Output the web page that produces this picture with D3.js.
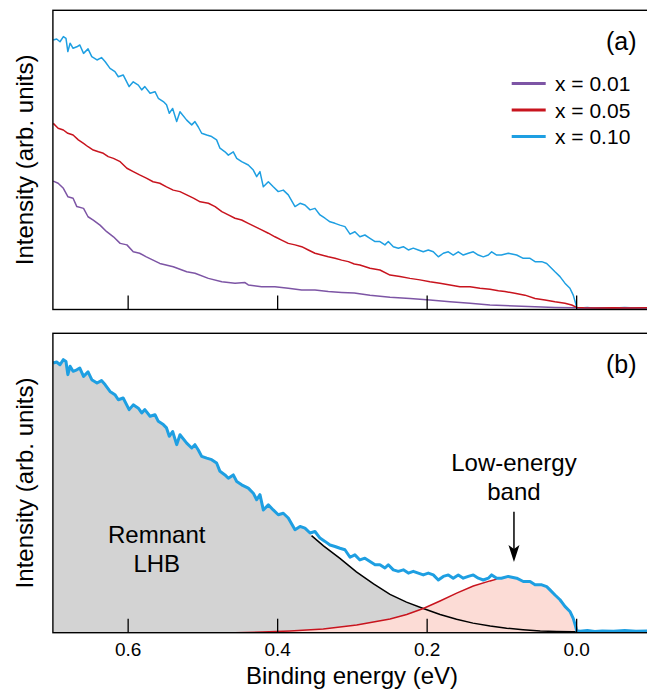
<!DOCTYPE html>
<html>
<head>
<meta charset="utf-8">
<script src="https://cdn.jsdelivr.net/npm/d3@7"></script>
<style>
  body { margin: 0; background: #fff; }
  svg { display: block; }
  text { font-family: "Liberation Sans", Arial, Helvetica, sans-serif; fill: #000; }
</style>
</head>
<body>
<div id="chart"></div>
<script>
// ---- data (binding energy in eV, intensity in % of panel height) ----

const specX010 = [
  [0.6995, 90.1], [0.695, 90.4], [0.6905, 89.5], [0.686, 91.2], [0.6825, 90.6], [0.680, 86.2],
  [0.677, 89.0], [0.673, 87.3], [0.668, 87.8], [0.664, 88.4], [0.659, 85.6], [0.653, 87.1],
  [0.648, 84.5], [0.641, 83.4], [0.635, 84.2], [0.630, 82.8], [0.6236, 80.6], [0.617, 79.5],
  [0.6125, 77.8], [0.606, 78.4], [0.598, 74.5], [0.5925, 76.1], [0.5857, 75.0], [0.5812, 73.4],
  [0.577, 74.5], [0.570, 72.3], [0.5634, 72.8], [0.559, 70.6], [0.5523, 69.5], [0.548, 68.4],
  [0.5443, 65.6], [0.5398, 67.2], [0.5344, 62.8], [0.530, 66.1], [0.521, 63.3], [0.5143, 61.7],
  [0.510, 62.8], [0.5055, 61.0], [0.501, 58.9], [0.4942, 58.3], [0.4876, 57.8], [0.481, 56.7],
  [0.4765, 53.9], [0.4698, 52.7], [0.4653, 51.6], [0.4587, 52.7], [0.4541, 50.5], [0.4475, 49.4],
  [0.4386, 48.3], [0.4319, 46.6], [0.4274, 44.4], [0.4230, 46.1], [0.4185, 41.0], [0.4118, 42.7],
  [0.4052, 41.0], [0.3985, 39.4], [0.3918, 39.9], [0.3851, 38.3], [0.3761, 34.4], [0.3694, 35.5],
  [0.3628, 34.9], [0.356, 33.3], [0.3494, 33.8], [0.3427, 31.6], [0.336, 30.5], [0.3293, 29.3],
  [0.3226, 28.8], [0.316, 28.2], [0.3093, 27.7], [0.3025, 25.2], [0.296, 26.0], [0.2893, 24.3],
  [0.2826, 24.9], [0.2758, 23.8], [0.269, 22.7], [0.2625, 22.7], [0.2558, 21.6], [0.2513, 22.7],
  [0.2446, 21.0], [0.2379, 20.5], [0.2312, 21.0], [0.2245, 19.9], [0.2179, 20.5], [0.2112, 19.9],
  [0.2045, 19.3], [0.1978, 19.9], [0.1911, 19.3], [0.1844, 17.6], [0.1777, 18.8], [0.171, 19.3],
  [0.1644, 18.2], [0.1577, 19.3], [0.151, 18.2], [0.1443, 18.8], [0.1376, 19.3], [0.1309, 18.2],
  [0.1242, 17.6], [0.1175, 18.2], [0.113, 19.3], [0.1063, 18.2], [0.100, 18.2], [0.0908, 18.8],
  [0.0796, 18.2], [0.0707, 17.1], [0.0617, 17.1], [0.055, 16.0], [0.046, 16.0], [0.0394, 15.4],
  [0.035, 14.3], [0.0283, 12.6], [0.0216, 11.0], [0.015, 8.8], [0.0083, 7.1], [0.0039, 4.8],
  [0.0007, 2.1], [-0.0007, 0.7], [-0.005, 0.5], [-0.015, 0.7], [-0.025, 0.4], [-0.035, 0.6],
  [-0.05, 0.5], [-0.065, 0.7], [-0.08, 0.5], [-0.095, 0.6], [-0.1, 0.5]
];

const specX005 = [
  [0.6995, 62.2], [0.693, 60.6], [0.686, 60.0], [0.680, 58.9], [0.673, 58.3], [0.666, 56.7],
  [0.659, 55.5], [0.653, 54.4], [0.646, 53.3], [0.639, 52.7], [0.6325, 52.2], [0.626, 51.1],
  [0.619, 50.5], [0.610, 49.4], [0.601, 47.2], [0.5925, 46.1], [0.584, 45.0], [0.575, 43.9],
  [0.566, 42.7], [0.557, 42.2], [0.548, 41.0], [0.539, 39.9], [0.530, 39.4], [0.521, 38.3],
  [0.512, 37.2], [0.503, 36.0], [0.492, 35.5], [0.483, 34.4], [0.474, 32.7], [0.4653, 31.6],
  [0.4564, 30.5], [0.4475, 29.9], [0.4386, 28.8], [0.4297, 27.7], [0.4208, 26.6], [0.4118, 25.5],
  [0.403, 24.3], [0.394, 23.2], [0.3851, 22.1], [0.3761, 21.6], [0.3672, 21.0], [0.3583, 19.9],
  [0.3494, 18.8], [0.3405, 18.2], [0.3316, 17.6], [0.3226, 17.1], [0.3137, 16.5], [0.3048, 16.0],
  [0.2968, 15.2], [0.2893, 14.9], [0.2758, 13.8], [0.2625, 13.2], [0.249, 11.5], [0.2357, 11.0],
  [0.2223, 10.4], [0.209, 9.9], [0.1956, 9.3], [0.1822, 8.8], [0.1688, 8.2], [0.1555, 7.6],
  [0.142, 7.6], [0.1287, 7.1], [0.1153, 6.8], [0.104, 6.3], [0.0953, 6.0], [0.082, 5.4],
  [0.0685, 4.8], [0.055, 3.7], [0.0417, 3.2], [0.0283, 2.6], [0.015, 2.1], [0.006, 1.5],
  [-0.0007, 0.7], [-0.01, 0.6], [-0.03, 0.5], [-0.05, 0.6], [-0.07, 0.5], [-0.1, 0.6]
];

const specX001 = [
  [0.6995, 42.9], [0.693, 42.2], [0.686, 40.5], [0.680, 37.7], [0.673, 37.2], [0.668, 34.4],
  [0.659, 33.8], [0.653, 31.0], [0.646, 29.9], [0.637, 28.2], [0.628, 26.0], [0.619, 24.3],
  [0.610, 22.1], [0.601, 21.6], [0.5925, 19.3], [0.584, 18.8], [0.575, 17.6], [0.566, 16.5],
  [0.557, 15.4], [0.539, 14.3], [0.521, 12.6], [0.5099, 12.1], [0.492, 10.4], [0.474, 9.3],
  [0.4564, 8.8], [0.443, 9.0], [0.4386, 8.2], [0.4208, 7.6], [0.403, 7.6], [0.3851, 7.1],
  [0.3672, 6.5], [0.3494, 6.5], [0.3316, 6.0], [0.3137, 5.7], [0.2968, 5.5], [0.2758, 4.8],
  [0.249, 4.1], [0.2223, 3.7], [0.1956, 3.2], [0.1688, 2.6], [0.142, 2.1], [0.1153, 1.5],
  [0.082, 1.2], [0.055, 0.9], [0.0283, 0.7], [0.0016, 0.6], [-0.01, 0.5], [-0.05, 0.5], [-0.1, 0.5]
];

// fitted components in panel (b)
const lhbTail = [
  [0.354, 32.4], [0.338, 29.0], [0.316, 24.8], [0.294, 20.3], [0.271, 16.3], [0.249, 12.8],
  [0.227, 10.2], [0.2045, 8.1], [0.182, 6.1], [0.160, 4.5], [0.138, 3.2], [0.115, 2.2],
  [0.093, 1.5], [0.071, 1.0], [0.048, 0.6], [0.026, 0.4], [0.004, 0.3], [0.0, 0.3]
];
const lowBand = [
  [0.456, 0.0], [0.42, 0.2], [0.3828, 0.6], [0.3383, 1.2], [0.2936, 2.6], [0.249, 4.6],
  [0.2267, 6.1], [0.2045, 8.1], [0.1821, 10.6], [0.1598, 13.2], [0.1376, 15.6], [0.1152, 17.3],
  [0.1063, 17.9]
];
const lhbJoin = 0.354;   // LHB fit follows the data above this energy
const bandJoin = 0.1063; // low-energy band follows the data below this energy

const legendLabels = ["x = 0.01", "x = 0.05", "x = 0.10"];
const seriesColors = ["#7d55a5", "#c8141e", "#1e9fe2"];
const tickValues = [0.6, 0.4, 0.2, 0.0];
const xDomain = [0.7, -0.1];

// ---- layout ----
const W = 647, H = 694;
const left = 52.9, right = 650.9;
const panels = [
  { top: 10.3, bottom: 309.5, tag: "(a)" },
  { top: 333.3, bottom: 632.7, tag: "(b)" }
];

const svg = d3.select("#chart").append("svg")
  .attr("width", W).attr("height", H);

const x = d3.scaleLinear().domain(xDomain).range([left, right]);

function yScaleFor(p) {
  return d3.scaleLinear().domain([0, 100]).range([p.bottom, p.top]);
}

function drawFrame(p, i, withLabels) {
  const y = yScaleFor(p);
  const g = svg.append("g");

  const axis = d3.axisBottom(x)
    .tickValues(tickValues)
    .tickSizeInner(-14)
    .tickSizeOuter(0)
    .tickPadding(10)
    .tickFormat(withLabels ? d3.format(".1f") : () => "");

  const ax = g.append("g")
    .attr("transform", `translate(0,${p.bottom})`)
    .call(axis);
  ax.select(".domain").remove();
  ax.selectAll(".tick line").attr("stroke", "#000").attr("stroke-width", 1.3);
  ax.selectAll(".tick text")
    .attr("font-size", 19)
    .attr("font-family", "Liberation Sans, Arial, sans-serif")
    .attr("fill", "#000");

  g.append("rect")
    .attr("x", left).attr("y", p.top)
    .attr("width", right - left).attr("height", p.bottom - p.top)
    .attr("fill", "none").attr("stroke", "#000").attr("stroke-width", 1.4);

  g.append("text")
    .attr("transform", `translate(33,${(p.top + p.bottom) / 2}) rotate(-90)`)
    .attr("text-anchor", "middle")
    .attr("font-size", 24)
    .text("Intensity (arb. units)");

  g.append("text")
    .attr("x", 636.5).attr("y", p.top + 40)
    .attr("text-anchor", "end")
    .attr("font-size", 25)
    .text(p.tag);
  return y;
}

// clip paths for the plot areas
const defs = svg.append("defs");
panels.forEach((p, i) => {
  defs.append("clipPath").attr("id", "clip" + i)
    .append("rect")
    .attr("x", left).attr("y", p.top)
    .attr("width", right - left).attr("height", p.bottom - p.top);
});

// ---- panel (a) ----
const pa = panels[0];
const ya = yScaleFor(pa);
const lineA = d3.line().x(d => x(d[0])).y(d => ya(d[1]));
const gA = svg.append("g").attr("clip-path", "url(#clip0)");

// draw order: x = 0.10, x = 0.01, x = 0.05 (red sits on top at the baseline)
[[specX010, 2], [specX001, 0], [specX005, 1]].forEach(([data, ci]) => {
  gA.append("path")
    .datum(data)
    .attr("d", lineA)
    .attr("fill", "none")
    .attr("stroke", seriesColors[ci])
    .attr("stroke-width", 1.5)
    .attr("stroke-linejoin", "round");
});

drawFrame(pa, 0, false);

// legend
legendLabels.forEach((lab, i) => {
  const ly = 83.5 + i * 26.5;
  svg.append("line")
    .attr("x1", 511.7).attr("x2", 545.7)
    .attr("y1", ly).attr("y2", ly)
    .attr("stroke", seriesColors[i]).attr("stroke-width", 2.8);
  svg.append("text")
    .attr("x", 555).attr("y", ly + 7.5)
    .attr("font-size", 21)
    .text(lab);
});

// ---- panel (b) ----
const pb = panels[1];
const yb = yScaleFor(pb);
const gB = svg.append("g").attr("clip-path", "url(#clip1)");

const area = d3.area().x(d => x(d[0])).y0(yb(0)).y1(d => yb(d[1]));
const lineB = d3.line().x(d => x(d[0])).y(d => yb(d[1]));

const lhbArea = specX010.filter(d => d[0] > lhbJoin).concat(lhbTail);
const bandArea = lowBand.concat(specX010.filter(d => d[0] < bandJoin && d[0] >= -0.001));

gB.append("path").datum(lhbArea).attr("d", area).attr("fill", "#d3d3d3");
gB.append("path").datum(bandArea).attr("d", area).attr("fill", "#fcdcd6");

gB.append("path").datum(lhbTail).attr("d", lineB)
  .attr("fill", "none").attr("stroke", "#000").attr("stroke-width", 1.5);
gB.append("path").datum(lowBand).attr("d", lineB)
  .attr("fill", "none").attr("stroke", "#c8141e").attr("stroke-width", 1.5);
gB.append("path").datum(specX010).attr("d", lineB)
  .attr("fill", "none").attr("stroke", seriesColors[2]).attr("stroke-width", 3)
  .attr("stroke-linejoin", "round");

drawFrame(pb, 1, true);

// annotations
svg.append("text")
  .attr("x", x(0.5611)).attr("y", yb(29.9))
  .attr("text-anchor", "middle").attr("font-size", 24)
  .text("Remnant");
svg.append("text")
  .attr("x", x(0.5611)).attr("y", yb(20.4))
  .attr("text-anchor", "middle").attr("font-size", 24)
  .text("LHB");

const arrowE = 0.0832;
svg.append("text")
  .attr("x", x(arrowE)).attr("y", yb(54.0))
  .attr("text-anchor", "middle").attr("font-size", 24)
  .text("Low-energy");
svg.append("text")
  .attr("x", x(arrowE)).attr("y", yb(44.3))
  .attr("text-anchor", "middle").attr("font-size", 24)
  .text("band");

const ax0 = x(arrowE), tipY = yb(23.6);
svg.append("line")
  .attr("x1", ax0).attr("x2", ax0)
  .attr("y1", yb(40.4)).attr("y2", tipY - 10)
  .attr("stroke", "#000").attr("stroke-width", 1.5);
svg.append("path")
  .attr("d", `M${ax0},${tipY} L${ax0 - 5.5},${tipY - 17} L${ax0},${tipY - 13} L${ax0 + 5.5},${tipY - 17} Z`)
  .attr("fill", "#000");

// x axis title
svg.append("text")
  .attr("x", (244 + 460) / 2).attr("y", 684.3)
  .attr("text-anchor", "middle").attr("font-size", 24)
  .text("Binding energy (eV)");
</script>
</body>
</html>
